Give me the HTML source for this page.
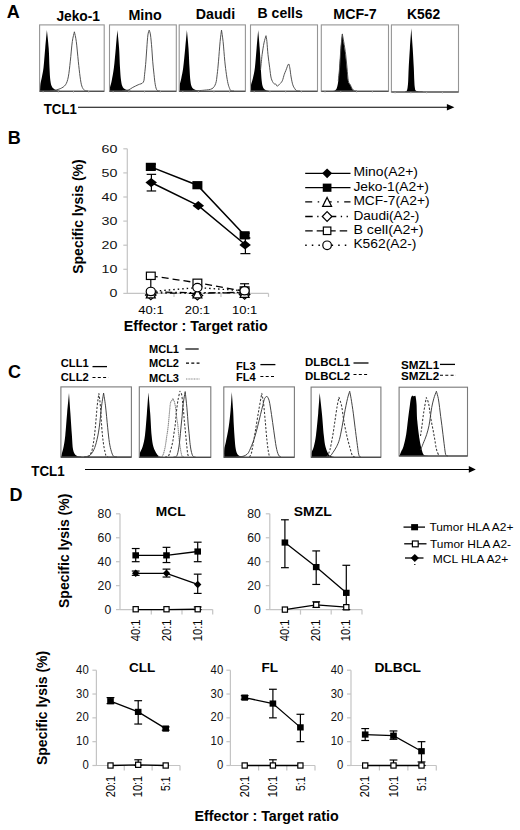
<!DOCTYPE html><html><head><meta charset="utf-8"><style>html,body{margin:0;padding:0;background:#fff;}svg{display:block;}text{font-family:"Liberation Sans",sans-serif;}</style></head><body>
<svg width="520" height="830" viewBox="0 0 520 830">
<rect width="520" height="830" fill="#fff"/>
<text x="6.8" y="17.6" font-size="18" font-weight="bold">A</text>
<text x="56.4" y="20.6" font-size="14" font-weight="bold" textLength="43.6" lengthAdjust="spacingAndGlyphs">Jeko-1</text>
<text x="128.4" y="20.1" font-size="14" font-weight="bold" textLength="33.4" lengthAdjust="spacingAndGlyphs">Mino</text>
<text x="195.8" y="18.8" font-size="14" font-weight="bold" textLength="39.4" lengthAdjust="spacingAndGlyphs">Daudi</text>
<text x="257.6" y="18.4" font-size="14" font-weight="bold" textLength="45.2" lengthAdjust="spacingAndGlyphs">B cells</text>
<text x="333.3" y="19" font-size="14" font-weight="bold" textLength="43.4" lengthAdjust="spacingAndGlyphs">MCF-7</text>
<text x="407" y="18.8" font-size="14" font-weight="bold" textLength="33.1" lengthAdjust="spacingAndGlyphs">K562</text>
<path d="M40,90.8 C40.07,89.67 40.08,86.32 40.4,84 C40.72,81.68 41.38,79.6 41.9,76.9 C42.42,74.2 42.95,72.58 43.5,67.8 C44.05,63.02 44.63,54.48 45.2,48.2 C45.77,41.92 46.62,33.12 46.9,30.1 C47.2,33.12 48.27,41.92 48.7,48.2 C49.13,54.48 49.22,62.37 49.5,67.8 C49.78,73.23 49.92,77.53 50.4,80.8 C50.88,84.07 51.2,85.77 52.4,87.4 C53.6,89.03 56,90 57.6,90.6 C59.2,91.2 61.27,90.93 62,91 L62,91.2 L40,91.2 Z" fill="#000"/>
<path d="M109.8,90.8 C109.83,90.23 109.68,89.07 110,87.4 C110.32,85.73 111.05,84.07 111.7,80.8 C112.35,77.53 113.22,73.23 113.9,67.8 C114.58,62.37 115.22,54.48 115.8,48.2 C116.38,41.92 117.13,33.12 117.4,30.1 C117.68,33.12 118.67,41.92 119.1,48.2 C119.53,54.48 119.67,62.37 120,67.8 C120.33,73.23 120.6,77.53 121.1,80.8 C121.6,84.07 121.92,85.83 123,87.4 C124.08,88.97 126.1,89.6 127.6,90.2 C129.1,90.8 131.27,90.87 132,91 L132,91.2 L109.8,91.2 Z" fill="#000"/>
<path d="M179.5,90.8 C179.53,89.83 179.4,87.1 179.7,85 C180,82.9 180.72,81.07 181.3,78.2 C181.88,75.33 182.55,72.8 183.2,67.8 C183.85,62.8 184.58,54.48 185.2,48.2 C185.82,41.92 186.62,33.12 186.9,30.1 C187.17,33.12 188.07,41.92 188.5,48.2 C188.93,54.48 189.18,62.37 189.5,67.8 C189.82,73.23 189.97,77.53 190.4,80.8 C190.83,84.07 191.12,85.83 192.1,87.4 C193.08,88.97 194.82,89.6 196.3,90.2 C197.78,90.8 200.22,90.87 201,91 L201,91.2 L179.5,91.2 Z" fill="#000"/>
<path d="M250.8,90.8 C250.83,89.83 250.65,87.1 251,85 C251.35,82.9 252.25,81.07 252.9,78.2 C253.55,75.33 254.28,72.8 254.9,67.8 C255.52,62.8 256.05,54.48 256.6,48.2 C257.15,41.92 257.93,33.12 258.2,30.1 C258.45,33.12 259.27,41.92 259.7,48.2 C260.13,54.48 260.47,62.37 260.8,67.8 C261.13,73.23 261.32,77.53 261.7,80.8 C262.08,84.07 262.38,85.83 263.1,87.4 C263.82,88.97 264.85,89.6 266,90.2 C267.15,90.8 269.33,90.87 270,91 L270,91.2 L250.8,91.2 Z" fill="#000"/>
<path d="M333.5,91 C333.82,90.83 334.82,90.6 335.4,90 C335.98,89.4 336.52,88.93 337,87.4 C337.48,85.87 337.9,84.07 338.3,80.8 C338.7,77.53 339,73.23 339.4,67.8 C339.8,62.37 340.23,53.98 340.7,48.2 C341.17,42.42 341.95,35.62 342.2,33.1 C342.42,34.52 342.95,38 343.5,41.6 C344.05,45.2 344.95,50.33 345.5,54.7 C346.05,59.07 346.37,63.45 346.8,67.8 C347.23,72.15 347.55,77.97 348.1,80.8 C348.65,83.63 349.45,83.48 350.1,84.8 C350.75,86.12 351.35,87.72 352,88.7 C352.65,89.68 353.17,90.32 354,90.7 C354.83,91.08 356.5,90.95 357,91 L357,91.2 L333.5,91.2 Z" fill="#000"/>
<path d="M405,91.6 C405.27,91.5 406.17,91.7 406.6,91 C407.03,90.3 407.33,89.1 407.6,87.4 C407.87,85.7 408.02,84.07 408.2,80.8 C408.38,77.53 408.42,73.23 408.7,67.8 C408.98,62.37 409.47,54.78 409.9,48.2 C410.33,41.62 411.07,31.62 411.3,28.3 C411.53,31.62 412.28,41.62 412.7,48.2 C413.12,54.78 413.53,62.37 413.8,67.8 C414.07,73.23 414.13,77.53 414.3,80.8 C414.47,84.07 414.55,85.77 414.8,87.4 C415.05,89.03 415.1,89.93 415.8,90.6 C416.5,91.27 417.85,91.23 419,91.4 C420.15,91.57 422.08,91.57 422.7,91.6 L422.7,92 L405,92 Z" fill="#000"/>
<path d="M50,91 C50.62,90.92 52,90.88 53.7,90.5 C55.4,90.12 58.23,89.65 60.2,88.7 C62.17,87.75 64.15,86.77 65.5,84.8 C66.85,82.83 67.5,80.83 68.3,76.9 C69.1,72.97 69.63,67.08 70.3,61.2 C70.97,55.32 71.62,46.5 72.3,41.6 C72.98,36.7 74.05,33.43 74.4,31.8 C74.72,33.43 75.65,36.7 76.3,41.6 C76.95,46.5 77.67,55.32 78.3,61.2 C78.93,67.08 79.52,72.77 80.1,76.9 C80.68,81.03 81.08,83.78 81.8,86 C82.52,88.22 83.37,89.37 84.4,90.2 C85.43,91.03 87.4,90.87 88,91" fill="none" stroke="#4a4a4a" stroke-width="0.95" stroke-linejoin="round"/>
<path d="M122,91 C122.5,90.93 123.85,90.8 125,90.6 C126.15,90.4 127.6,90.33 128.9,89.8 C130.2,89.27 131.27,88.23 132.8,87.4 C134.33,86.57 136.35,85.67 138.1,84.8 C139.85,83.93 142.22,83.95 143.3,82.2 C144.38,80.45 144.17,77.8 144.6,74.3 C145.03,70.8 145.53,65.55 145.9,61.2 C146.27,56.85 146.47,52.57 146.8,48.2 C147.13,43.83 147.5,38.02 147.9,35 C148.3,31.98 148.98,30.92 149.2,30.1 C149.42,30.92 150.07,31.98 150.5,35 C150.93,38.02 151.43,43.83 151.8,48.2 C152.17,52.57 152.33,56.85 152.7,61.2 C153.07,65.55 153.57,70.37 154,74.3 C154.43,78.23 154.8,82.15 155.3,84.8 C155.8,87.45 156.22,89.17 157,90.2 C157.78,91.23 159.5,90.87 160,91" fill="none" stroke="#4a4a4a" stroke-width="0.95" stroke-linejoin="round"/>
<path d="M192,91 C194.03,90.87 200.87,90.58 204.2,90.2 C207.53,89.82 210.08,89.82 212,88.7 C213.92,87.58 214.83,85.9 215.7,83.5 C216.57,81.1 216.73,78.02 217.2,74.3 C217.67,70.58 218.02,66.65 218.5,61.2 C218.98,55.75 219.6,46.78 220.1,41.6 C220.6,36.42 221.27,32.02 221.5,30.1 C221.77,32.02 222.55,36.42 223.1,41.6 C223.65,46.78 224.25,55.75 224.8,61.2 C225.35,66.65 225.87,70.58 226.4,74.3 C226.93,78.02 227.45,81.1 228,83.5 C228.55,85.9 229.2,87.5 229.7,88.7 C230.2,89.9 230.28,90.32 231,90.7 C231.72,91.08 233.5,90.95 234,91" fill="none" stroke="#4a4a4a" stroke-width="0.95" stroke-linejoin="round"/>
<path d="M260.5,70 C260.65,68.53 261.13,63.75 261.4,61.2 C261.67,58.65 261.67,57.75 262.1,54.7 C262.53,51.65 263.35,46.07 264,42.9 C264.65,39.73 265.67,36.9 266,35.7 C266.15,36.68 266.57,38.43 266.9,41.6 C267.23,44.77 267.53,50.33 268,54.7 C268.47,59.07 269.17,63.88 269.7,67.8 C270.23,71.72 270.52,75.58 271.2,78.2 C271.88,80.82 273.03,82.52 273.8,83.5 C274.57,84.48 275.25,83.67 275.8,84.1 C276.35,84.53 276.45,86.1 277.1,86.1 C277.75,86.1 278.83,84.98 279.7,84.1 C280.57,83.22 281.53,82.43 282.3,80.8 C283.07,79.17 283.7,76.03 284.3,74.3 C284.9,72.57 285.2,72.1 285.9,70.4 C286.6,68.7 287.85,64.53 288.5,64.1 C289.15,63.67 289.37,65.65 289.8,67.8 C290.23,69.95 290.6,74.17 291.1,77 C291.6,79.83 292.18,82.85 292.8,84.8 C293.42,86.75 294.15,87.72 294.8,88.7 C295.45,89.68 295.83,90.32 296.7,90.7 C297.57,91.08 299.45,90.95 300,91" fill="none" stroke="#4a4a4a" stroke-width="0.95" stroke-linejoin="round"/>
<path d="M338.3,80.8 C338.52,78.63 339.17,73.23 339.6,67.8 C340.03,62.37 340.45,53.83 340.9,48.2 C341.35,42.57 342.07,36.37 342.3,34 C342.53,35.27 343.13,38.15 343.7,41.6 C344.27,45.05 345.15,50.33 345.7,54.7 C346.25,59.07 346.57,63.45 347,67.8 C347.43,72.15 347.75,77.97 348.3,80.8 C348.85,83.63 349.65,83.48 350.3,84.8 C350.95,86.12 351.55,87.72 352.2,88.7 C352.85,89.68 353.4,90.32 354.2,90.7 C355,91.08 356.53,90.95 357,91" fill="none" stroke="#4a4a4a" stroke-width="0.95" stroke-linejoin="round"/>
<rect x="39.6" y="24.9" width="64.6" height="66.3" fill="none" stroke="#959595" stroke-width="1.1"/>
<line x1="39.6" y1="91.2" x2="104.2" y2="91.2" stroke="#333" stroke-width="1.1"/>
<line x1="43.15" y1="91.2" x2="43.15" y2="92.8" stroke="#bbb" stroke-width="0.8"/>
<line x1="58.33" y1="91.2" x2="58.33" y2="92.8" stroke="#bbb" stroke-width="0.8"/>
<line x1="73.51" y1="91.2" x2="73.51" y2="92.8" stroke="#bbb" stroke-width="0.8"/>
<line x1="88.7" y1="91.2" x2="88.7" y2="92.8" stroke="#bbb" stroke-width="0.8"/>
<rect x="109.5" y="24.9" width="66.8" height="66.3" fill="none" stroke="#959595" stroke-width="1.1"/>
<line x1="109.5" y1="91.2" x2="176.3" y2="91.2" stroke="#333" stroke-width="1.1"/>
<line x1="113.17" y1="91.2" x2="113.17" y2="92.8" stroke="#bbb" stroke-width="0.8"/>
<line x1="128.87" y1="91.2" x2="128.87" y2="92.8" stroke="#bbb" stroke-width="0.8"/>
<line x1="144.57" y1="91.2" x2="144.57" y2="92.8" stroke="#bbb" stroke-width="0.8"/>
<line x1="160.27" y1="91.2" x2="160.27" y2="92.8" stroke="#bbb" stroke-width="0.8"/>
<rect x="179.2" y="24.9" width="66.2" height="66.3" fill="none" stroke="#959595" stroke-width="1.1"/>
<line x1="179.2" y1="91.2" x2="245.4" y2="91.2" stroke="#333" stroke-width="1.1"/>
<line x1="182.84" y1="91.2" x2="182.84" y2="92.8" stroke="#bbb" stroke-width="0.8"/>
<line x1="198.4" y1="91.2" x2="198.4" y2="92.8" stroke="#bbb" stroke-width="0.8"/>
<line x1="213.95" y1="91.2" x2="213.95" y2="92.8" stroke="#bbb" stroke-width="0.8"/>
<line x1="229.51" y1="91.2" x2="229.51" y2="92.8" stroke="#bbb" stroke-width="0.8"/>
<rect x="250.5" y="24.9" width="67" height="66.3" fill="none" stroke="#959595" stroke-width="1.1"/>
<line x1="250.5" y1="91.2" x2="317.5" y2="91.2" stroke="#333" stroke-width="1.1"/>
<line x1="254.19" y1="91.2" x2="254.19" y2="92.8" stroke="#bbb" stroke-width="0.8"/>
<line x1="269.93" y1="91.2" x2="269.93" y2="92.8" stroke="#bbb" stroke-width="0.8"/>
<line x1="285.68" y1="91.2" x2="285.68" y2="92.8" stroke="#bbb" stroke-width="0.8"/>
<line x1="301.42" y1="91.2" x2="301.42" y2="92.8" stroke="#bbb" stroke-width="0.8"/>
<rect x="321.3" y="24.9" width="67.2" height="66.3" fill="none" stroke="#959595" stroke-width="1.1"/>
<line x1="321.3" y1="91.2" x2="388.5" y2="91.2" stroke="#333" stroke-width="1.1"/>
<line x1="325" y1="91.2" x2="325" y2="92.8" stroke="#bbb" stroke-width="0.8"/>
<line x1="340.79" y1="91.2" x2="340.79" y2="92.8" stroke="#bbb" stroke-width="0.8"/>
<line x1="356.58" y1="91.2" x2="356.58" y2="92.8" stroke="#bbb" stroke-width="0.8"/>
<line x1="372.37" y1="91.2" x2="372.37" y2="92.8" stroke="#bbb" stroke-width="0.8"/>
<rect x="391.4" y="24.9" width="67.1" height="67.1" fill="none" stroke="#959595" stroke-width="1.1"/>
<line x1="391.4" y1="92" x2="458.5" y2="92" stroke="#333" stroke-width="1.1"/>
<line x1="395.09" y1="92" x2="395.09" y2="93.6" stroke="#bbb" stroke-width="0.8"/>
<line x1="410.86" y1="92" x2="410.86" y2="93.6" stroke="#bbb" stroke-width="0.8"/>
<line x1="426.63" y1="92" x2="426.63" y2="93.6" stroke="#bbb" stroke-width="0.8"/>
<line x1="442.4" y1="92" x2="442.4" y2="93.6" stroke="#bbb" stroke-width="0.8"/>
<text x="43.8" y="113.6" font-size="14" font-weight="bold" textLength="33" lengthAdjust="spacingAndGlyphs">TCL1</text>
<line x1="78" y1="107.3" x2="447.9" y2="107.3" stroke="#000" stroke-width="1.1"/>
<polygon points="446.9,104.1 454.4,107.3 446.9,110.6" fill="#000"/>
<text x="7.8" y="143.8" font-size="18" font-weight="bold">B</text>
<line x1="127.3" y1="148.8" x2="127.3" y2="293.9" stroke="#c4c4c4" stroke-width="1.2"/>
<line x1="127.3" y1="293.4" x2="268.5" y2="293.4" stroke="#c4c4c4" stroke-width="1.2"/>
<line x1="123.3" y1="293.4" x2="127.3" y2="293.4" stroke="#c4c4c4" stroke-width="1.2"/>
<line x1="123.3" y1="269.3" x2="127.3" y2="269.3" stroke="#c4c4c4" stroke-width="1.2"/>
<line x1="123.3" y1="245.2" x2="127.3" y2="245.2" stroke="#c4c4c4" stroke-width="1.2"/>
<line x1="123.3" y1="221.1" x2="127.3" y2="221.1" stroke="#c4c4c4" stroke-width="1.2"/>
<line x1="123.3" y1="197" x2="127.3" y2="197" stroke="#c4c4c4" stroke-width="1.2"/>
<line x1="123.3" y1="172.9" x2="127.3" y2="172.9" stroke="#c4c4c4" stroke-width="1.2"/>
<line x1="123.3" y1="148.8" x2="127.3" y2="148.8" stroke="#c4c4c4" stroke-width="1.2"/>
<line x1="174" y1="293.4" x2="174" y2="296.9" stroke="#c4c4c4" stroke-width="1.2"/>
<line x1="221" y1="293.4" x2="221" y2="296.9" stroke="#c4c4c4" stroke-width="1.2"/>
<line x1="268.5" y1="293.4" x2="268.5" y2="296.9" stroke="#c4c4c4" stroke-width="1.2"/>
<text x="117.4" y="297.1" font-size="11.5" text-anchor="end" textLength="7.9" lengthAdjust="spacingAndGlyphs" fill="#111">0</text>
<text x="117.4" y="273" font-size="11.5" text-anchor="end" textLength="15.8" lengthAdjust="spacingAndGlyphs" fill="#111">10</text>
<text x="117.4" y="248.9" font-size="11.5" text-anchor="end" textLength="15.8" lengthAdjust="spacingAndGlyphs" fill="#111">20</text>
<text x="117.4" y="224.8" font-size="11.5" text-anchor="end" textLength="15.8" lengthAdjust="spacingAndGlyphs" fill="#111">30</text>
<text x="117.4" y="200.7" font-size="11.5" text-anchor="end" textLength="15.8" lengthAdjust="spacingAndGlyphs" fill="#111">40</text>
<text x="117.4" y="176.6" font-size="11.5" text-anchor="end" textLength="15.8" lengthAdjust="spacingAndGlyphs" fill="#111">50</text>
<text x="117.4" y="152.5" font-size="11.5" text-anchor="end" textLength="15.8" lengthAdjust="spacingAndGlyphs" fill="#111">60</text>
<text x="82.6" y="273.8" font-size="14" font-weight="bold" textLength="114.5" lengthAdjust="spacingAndGlyphs" transform="rotate(-90 82.6 273.8)">Specific lysis (%)</text>
<text x="151" y="313.9" font-size="11.5" text-anchor="middle" textLength="25.3" lengthAdjust="spacingAndGlyphs">40:1</text>
<text x="197.4" y="313.9" font-size="11.5" text-anchor="middle" textLength="25.3" lengthAdjust="spacingAndGlyphs">20:1</text>
<text x="244.6" y="313.9" font-size="11.5" text-anchor="middle" textLength="25.3" lengthAdjust="spacingAndGlyphs">10:1</text>
<text x="123.7" y="330.6" font-size="14" font-weight="bold" textLength="144" lengthAdjust="spacingAndGlyphs">Effector : Target ratio</text>
<polyline points="150.8,292.92 197.4,293.4 244.6,292.19" fill="none" stroke="#000" stroke-width="1.2" stroke-dasharray="7 3 1.5 3 1.5 3"/>
<polyline points="150.8,291.95 197.4,292.68 244.6,292.92" fill="none" stroke="#000" stroke-width="1.2" stroke-dasharray="7 3 1.5 3"/>
<polyline points="150.8,291.47 197.4,287.62 244.6,290.75" fill="none" stroke="#000" stroke-width="1.3" stroke-dasharray="1.5 3"/>
<polyline points="150.8,275.81 197.4,282.8 244.6,291.23" fill="none" stroke="#000" stroke-width="1.3" stroke-dasharray="7 4"/>
<line x1="150.8" y1="275.81" x2="150.8" y2="289.78" stroke="#000" stroke-width="1.2"/>
<line x1="150.8" y1="275.81" x2="150.8" y2="275.81" stroke="#000" stroke-width="1.2"/>
<line x1="150.8" y1="289.78" x2="150.8" y2="289.78" stroke="#000" stroke-width="1.2"/>
<line x1="244.6" y1="283.76" x2="244.6" y2="293.4" stroke="#000" stroke-width="1.2"/>
<line x1="240.1" y1="283.76" x2="249.1" y2="283.76" stroke="#000" stroke-width="1.2"/>
<line x1="240.1" y1="293.4" x2="249.1" y2="293.4" stroke="#000" stroke-width="1.2"/>
<polygon points="150.8,290.59 156.05,295.09 150.8,299.59 145.55,295.09" fill="#fff" stroke="#000" stroke-width="1.2"/>
<polygon points="197.4,291.07 202.65,295.57 197.4,300.07 192.15,295.57" fill="#fff" stroke="#000" stroke-width="1.2"/>
<polygon points="244.6,290.1 249.85,294.6 244.6,299.1 239.35,294.6" fill="#fff" stroke="#000" stroke-width="1.2"/>
<polygon points="150.8,288.9 155.3,297.9 146.3,297.9" fill="#fff" stroke="#000" stroke-width="1.2"/>
<polygon points="197.4,288.9 201.9,297.9 192.9,297.9" fill="#fff" stroke="#000" stroke-width="1.2"/>
<polygon points="244.6,288.42 249.1,297.42 240.1,297.42" fill="#fff" stroke="#000" stroke-width="1.2"/>
<rect x="146.4" y="272.16" width="8.8" height="7.3" fill="#fff" stroke="#000" stroke-width="1.2"/>
<rect x="193" y="279.15" width="8.8" height="7.3" fill="#fff" stroke="#000" stroke-width="1.2"/>
<rect x="240.2" y="286.86" width="8.8" height="7.3" fill="#fff" stroke="#000" stroke-width="1.2"/>
<ellipse cx="150.8" cy="291.47" rx="4.6" ry="4.2" fill="#fff" stroke="#000" stroke-width="1.2"/>
<ellipse cx="197.4" cy="287.62" rx="4.6" ry="4.2" fill="#fff" stroke="#000" stroke-width="1.2"/>
<ellipse cx="244.6" cy="290.75" rx="4.6" ry="4.2" fill="#fff" stroke="#000" stroke-width="1.2"/>
<polyline points="150.8,166.88 197.4,185.19 244.6,235.32" fill="none" stroke="#000" stroke-width="1.5"/>
<polyline points="151.2,182.54 198.3,205.68 245.1,244.48" fill="none" stroke="#000" stroke-width="1.5"/>
<line x1="151.4" y1="174.35" x2="151.4" y2="190.97" stroke="#000" stroke-width="1.2"/>
<line x1="146.65" y1="174.35" x2="156.15" y2="174.35" stroke="#000" stroke-width="1.2"/>
<line x1="146.65" y1="190.97" x2="156.15" y2="190.97" stroke="#000" stroke-width="1.2"/>
<line x1="151.4" y1="164.22" x2="151.4" y2="169.29" stroke="#000" stroke-width="1.2"/>
<line x1="146.9" y1="164.22" x2="155.9" y2="164.22" stroke="#000" stroke-width="1.2"/>
<line x1="146.9" y1="169.29" x2="155.9" y2="169.29" stroke="#000" stroke-width="1.2"/>
<line x1="245.4" y1="237.97" x2="245.4" y2="253.63" stroke="#000" stroke-width="1.2"/>
<line x1="240.4" y1="237.97" x2="250.4" y2="237.97" stroke="#000" stroke-width="1.2"/>
<line x1="240.4" y1="253.63" x2="250.4" y2="253.63" stroke="#000" stroke-width="1.2"/>
<line x1="245.4" y1="233.15" x2="245.4" y2="237.97" stroke="#000" stroke-width="1.2"/>
<line x1="240.9" y1="233.15" x2="249.9" y2="233.15" stroke="#000" stroke-width="1.2"/>
<line x1="240.9" y1="237.97" x2="249.9" y2="237.97" stroke="#000" stroke-width="1.2"/>
<rect x="145.8" y="162.78" width="10" height="8.2" fill="#000"/>
<rect x="192.4" y="181.09" width="10" height="8.2" fill="#000"/>
<rect x="239.6" y="231.22" width="10" height="8.2" fill="#000"/>
<polygon points="151.2,177.94 156.95,182.54 151.2,187.14 145.45,182.54" fill="#000"/>
<polygon points="198.3,201.08 204.05,205.68 198.3,210.28 192.55,205.68" fill="#000"/>
<polygon points="245.1,240.36 250.85,244.96 245.1,249.56 239.35,244.96" fill="#000"/>
<line x1="305.2" y1="173.3" x2="350.5" y2="173.3" stroke="#000" stroke-width="1.3"/>
<polygon points="327.1,168.4 332.1,173.3 327.1,178.2 322.1,173.3" fill="#000"/>
<line x1="305.2" y1="187.7" x2="350.5" y2="187.7" stroke="#000" stroke-width="1.3"/>
<rect x="322.75" y="183.6" width="8.7" height="8.2" fill="#000"/>
<line x1="305.2" y1="201.9" x2="350.5" y2="201.9" stroke="#000" stroke-width="1.3" stroke-dasharray="7 5.5 1.5 5.5"/>
<polygon points="327.1,197.4 331.6,206.4 322.6,206.4" fill="#fff" stroke="#000" stroke-width="1.2"/>
<line x1="305.2" y1="216.5" x2="350.5" y2="216.5" stroke="#000" stroke-width="1.3" stroke-dasharray="7.5 4.5 1.3 4.5 1.3 4.5"/>
<polygon points="327.1,211.7 331.9,216.5 327.1,221.3 322.3,216.5" fill="#fff" stroke="#000" stroke-width="1.2"/>
<line x1="305.2" y1="230.8" x2="350.5" y2="230.8" stroke="#000" stroke-width="1.3" stroke-dasharray="7.5 4"/>
<rect x="323.35" y="227.05" width="7.5" height="7.5" fill="#fff" stroke="#000" stroke-width="1.2"/>
<line x1="305.2" y1="245.3" x2="350.5" y2="245.3" stroke="#000" stroke-width="1.4" stroke-dasharray="1.5 5.1"/>
<ellipse cx="327.1" cy="245.3" rx="4.3" ry="4.3" fill="#fff" stroke="#000" stroke-width="1.2"/>
<text x="353.4" y="176.4" font-size="12.5" textLength="64.6" lengthAdjust="spacingAndGlyphs">Mino(A2+)</text>
<text x="353.4" y="190.8" font-size="12.5" textLength="75.5" lengthAdjust="spacingAndGlyphs">Jeko-1(A2+)</text>
<text x="353.4" y="205" font-size="12.5" textLength="76.2" lengthAdjust="spacingAndGlyphs">MCF-7(A2+)</text>
<text x="353.4" y="219.6" font-size="12.5" textLength="66" lengthAdjust="spacingAndGlyphs">Daudi(A2-)</text>
<text x="353.4" y="233.9" font-size="12.5" textLength="70" lengthAdjust="spacingAndGlyphs">B cell(A2+)</text>
<text x="353.4" y="248.4" font-size="12.5" textLength="63" lengthAdjust="spacingAndGlyphs">K562(A2-)</text>
<text x="8" y="377.8" font-size="18" font-weight="bold">C</text>
<text x="60.8" y="367.1" font-size="11" font-weight="bold" textLength="27.9" lengthAdjust="spacingAndGlyphs">CLL1</text>
<text x="60.8" y="381" font-size="11" font-weight="bold" textLength="27.9" lengthAdjust="spacingAndGlyphs">CLL2</text>
<line x1="92.5" y1="366.6" x2="107" y2="366.6" stroke="#000" stroke-width="1.3"/>
<line x1="92.5" y1="377.5" x2="108.5" y2="377.5" stroke="#000" stroke-width="1.1" stroke-dasharray="3 2.3"/>
<text x="149" y="352.5" font-size="11" font-weight="bold" textLength="30" lengthAdjust="spacingAndGlyphs">MCL1</text>
<text x="149" y="366.8" font-size="11" font-weight="bold" textLength="30" lengthAdjust="spacingAndGlyphs">MCL2</text>
<text x="149" y="382.1" font-size="11" font-weight="bold" textLength="30" lengthAdjust="spacingAndGlyphs">MCL3</text>
<line x1="185.4" y1="349" x2="198.7" y2="349" stroke="#000" stroke-width="1.2"/>
<line x1="186" y1="363.1" x2="199.5" y2="363.1" stroke="#000" stroke-width="1.1" stroke-dasharray="3 2.3"/>
<line x1="186" y1="379" x2="199.5" y2="379" stroke="#888" stroke-width="1.1" stroke-dasharray="1 0.6"/>
<text x="236" y="369.8" font-size="11" font-weight="bold" textLength="19.8" lengthAdjust="spacingAndGlyphs">FL3</text>
<text x="236" y="380.8" font-size="11" font-weight="bold" textLength="19.8" lengthAdjust="spacingAndGlyphs">FL4</text>
<line x1="260.4" y1="364.6" x2="275.4" y2="364.6" stroke="#000" stroke-width="1.3"/>
<line x1="260.4" y1="376.5" x2="276" y2="376.5" stroke="#000" stroke-width="1.1" stroke-dasharray="3 2.3"/>
<text x="305" y="366" font-size="11" font-weight="bold" textLength="45.2" lengthAdjust="spacingAndGlyphs">DLBCL1</text>
<text x="305" y="380" font-size="11" font-weight="bold" textLength="45.2" lengthAdjust="spacingAndGlyphs">DLBCL2</text>
<line x1="353.5" y1="363" x2="368.5" y2="363" stroke="#000" stroke-width="1.3"/>
<line x1="353.5" y1="374.5" x2="369" y2="374.5" stroke="#000" stroke-width="1.1" stroke-dasharray="3 2.3"/>
<text x="401" y="368.5" font-size="11" font-weight="bold" textLength="38.2" lengthAdjust="spacingAndGlyphs">SMZL1</text>
<text x="401" y="379.8" font-size="11" font-weight="bold" textLength="38.2" lengthAdjust="spacingAndGlyphs">SMZL2</text>
<line x1="440" y1="364.4" x2="455" y2="364.4" stroke="#000" stroke-width="1.3"/>
<line x1="440" y1="375.3" x2="456" y2="375.3" stroke="#000" stroke-width="1.1" stroke-dasharray="3 2.3"/>
<path d="M61.2,457 C61.28,456.53 61.3,455.9 61.7,454.2 C62.1,452.5 63,449.97 63.6,446.8 C64.2,443.63 64.72,440.8 65.3,435.2 C65.88,429.6 66.48,420.22 67.1,413.2 C67.72,406.18 68.68,396.45 69,393.1 C69.23,396.45 69.92,406.18 70.4,413.2 C70.88,420.22 71.45,429.1 71.9,435.2 C72.35,441.3 72.37,446.4 73.1,449.8 C73.83,453.2 74.92,454.43 76.3,455.6 C77.68,456.77 80.55,456.6 81.4,456.8 L81.4,457 L61.2,457 Z" fill="#000"/>
<path d="M139.6,457 C139.65,456.33 139.4,454.7 139.9,453 C140.4,451.3 141.75,449.77 142.6,446.8 C143.45,443.83 144.28,440.8 145,435.2 C145.72,429.6 146.33,420.32 146.9,413.2 C147.47,406.08 148.15,395.95 148.4,392.5 C148.7,395.95 149.67,406.08 150.2,413.2 C150.73,420.32 151.07,429.6 151.6,435.2 C152.13,440.8 152.55,443.7 153.4,446.8 C154.25,449.9 155.78,452.23 156.7,453.8 C157.62,455.37 158.18,455.67 158.9,456.2 C159.62,456.73 160.65,456.87 161,457 L161,457 L139.6,457 Z" fill="#000"/>
<path d="M224.1,457 C224.12,455.7 223.92,451.65 224.2,449.2 C224.48,446.75 225.03,446.13 225.8,442.3 C226.57,438.47 228,431.58 228.8,426.2 C229.6,420.82 230.1,415.7 230.6,410 C231.1,404.3 231.6,395 231.8,392 C232.02,395 232.77,404.5 233.1,410 C233.43,415.5 233.55,420.38 233.8,425 C234.05,429.62 234.27,433.67 234.6,437.7 C234.93,441.73 235.22,446.32 235.8,449.2 C236.38,452.08 236.95,453.77 238.1,455 C239.25,456.23 241.55,456.27 242.7,456.6 C243.85,456.93 244.62,456.93 245,457 L245,457 L224.1,457 Z" fill="#000"/>
<path d="M311.4,457 C311.45,456.22 311.3,454 311.7,452.3 C312.1,450.6 313.08,449.65 313.8,446.8 C314.52,443.95 315.27,440.8 316,435.2 C316.73,429.6 317.58,420.22 318.2,413.2 C318.82,406.18 319.45,396.45 319.7,393.1 C320.07,396.45 321.22,406.18 321.9,413.2 C322.58,420.22 323.2,429.6 323.8,435.2 C324.4,440.8 324.72,443.63 325.5,446.8 C326.28,449.97 327.52,452.62 328.5,454.2 C329.48,455.78 330.48,455.83 331.4,456.3 C332.32,456.77 333.57,456.88 334,457 L334,457 L311.4,457 Z" fill="#000"/>
<path d="M399.4,455.8 C399.68,455.12 400.4,453.35 401.1,451.7 C401.8,450.05 402.75,448.82 403.6,445.9 C404.45,442.98 405.47,438.6 406.2,434.2 C406.93,429.8 407.38,424.38 408,419.5 C408.62,414.62 409.38,408.55 409.9,404.9 C410.42,401.25 410.67,399.17 411.1,397.6 C411.53,396.03 412.27,395.85 412.5,395.5 C412.72,395.63 413.33,396.25 413.8,396.3 C414.27,396.35 414.93,395.35 415.3,395.8 C415.67,396.25 415.78,397.48 416,399 C416.22,400.52 416.38,401.23 416.6,404.9 C416.82,408.57 416.82,415.32 417.3,421 C417.78,426.68 418.83,434.5 419.5,439 C420.17,443.5 420.7,445.55 421.3,448 C421.9,450.45 422.48,452.45 423.1,453.7 C423.72,454.95 424.18,455.13 425,455.5 C425.82,455.87 427.5,455.83 428,455.9 L428,455.9 L399.4,455.9 Z" fill="#000"/>
<path d="M88,457 C88.55,456.25 90.38,454.92 91.3,452.5 C92.22,450.08 92.83,446.62 93.5,442.5 C94.17,438.38 94.68,433.9 95.3,427.8 C95.92,421.7 96.6,411.62 97.2,405.9 C97.8,400.18 98.62,395.57 98.9,393.5 C99.15,395.57 99.92,400.18 100.4,405.9 C100.88,411.62 101.32,421.7 101.8,427.8 C102.28,433.9 102.75,438.38 103.3,442.5 C103.85,446.62 104.62,450.28 105.1,452.5 C105.58,454.72 105.72,455.05 106.2,455.8 C106.68,456.55 107.7,456.8 108,457" fill="none" stroke="#3a3a3a" stroke-width="1.05" stroke-dasharray="2.2 1.6" stroke-linejoin="round"/>
<path d="M84,457 C84.9,456.77 87.88,456.57 89.4,455.6 C90.92,454.63 91.95,453.38 93.1,451.2 C94.25,449.02 95.28,446.4 96.3,442.5 C97.32,438.6 98.32,433.9 99.2,427.8 C100.08,421.7 100.87,411.68 101.6,405.9 C102.33,400.12 103.27,395.23 103.6,393.1 C103.92,395.23 104.82,400.12 105.5,405.9 C106.18,411.68 107.05,421.7 107.7,427.8 C108.35,433.9 108.8,438.6 109.4,442.5 C110,446.4 110.62,448.92 111.3,451.2 C111.98,453.48 112.55,455.23 113.5,456.2 C114.45,457.17 116.42,456.87 117,457" fill="none" stroke="#3a3a3a" stroke-width="0.95" stroke-linejoin="round"/>
<path d="M158,457 C158.62,456.95 160.78,457.27 161.7,456.7 C162.62,456.13 162.92,455.27 163.5,453.6 C164.08,451.93 164.7,449.3 165.2,446.7 C165.7,444.1 166.07,440.88 166.5,438 C166.93,435.12 167.43,432.28 167.8,429.4 C168.17,426.52 168.42,423.6 168.7,420.7 C168.98,417.8 169.22,414.9 169.5,412 C169.78,409.1 170.1,405.1 170.4,403.3 C170.7,401.5 171.02,401.72 171.3,401.2 C171.58,400.68 171.82,400.63 172.1,400.2 C172.38,399.77 172.85,398.87 173,398.6 C173.13,398.93 173.55,400 173.8,400.6 C174.05,401.2 174.2,401.02 174.5,402.2 C174.8,403.38 175.27,405.33 175.6,407.7 C175.93,410.07 176.13,413.52 176.5,416.4 C176.87,419.28 177.45,422.12 177.8,425 C178.15,427.88 178.32,430.8 178.6,433.7 C178.88,436.6 179.13,439.52 179.5,442.4 C179.87,445.28 180.37,448.68 180.8,451 C181.23,453.32 181.57,455.3 182.1,456.3 C182.63,457.3 183.68,456.88 184,457" fill="none" stroke="#8a8a8a" stroke-width="1.05" stroke-dasharray="1.5 0.45" stroke-linejoin="round"/>
<path d="M165,457 C165.53,456.88 167.3,457.3 168.2,456.3 C169.1,455.3 169.67,453.32 170.4,451 C171.13,448.68 172.02,445.28 172.6,442.4 C173.18,439.52 173.47,436.6 173.9,433.7 C174.33,430.8 174.85,427.88 175.2,425 C175.55,422.12 175.72,419.28 176,416.4 C176.28,413.52 176.53,410.6 176.9,407.7 C177.27,404.8 177.68,401.75 178.2,399 C178.72,396.25 179.7,392.5 180,391.2 C180.28,391.78 181.25,392.68 181.7,394.7 C182.15,396.72 182.38,400.42 182.7,403.3 C183.02,406.18 183.33,409.1 183.6,412 C183.87,414.9 184.03,417.8 184.3,420.7 C184.57,423.6 184.92,426.52 185.2,429.4 C185.48,432.28 185.72,435.12 186,438 C186.28,440.88 186.6,443.95 186.9,446.7 C187.2,449.45 187.37,452.78 187.8,454.5 C188.23,456.22 189.22,456.58 189.5,457" fill="none" stroke="#3a3a3a" stroke-width="1.05" stroke-dasharray="2.2 1.6" stroke-linejoin="round"/>
<path d="M173.5,457 C174,456.88 175.72,457.3 176.5,456.3 C177.28,455.3 177.7,453.32 178.2,451 C178.7,448.68 179.13,445.28 179.5,442.4 C179.87,439.52 180.12,436.6 180.4,433.7 C180.68,430.8 180.92,427.88 181.2,425 C181.48,422.12 181.85,419.28 182.1,416.4 C182.35,413.52 182.4,410.6 182.7,407.7 C183,404.8 183.48,401.68 183.9,399 C184.32,396.32 184.98,392.83 185.2,391.6 C185.33,392.83 185.72,396.32 186,399 C186.28,401.68 186.63,404.8 186.9,407.7 C187.17,410.6 187.38,413.52 187.6,416.4 C187.82,419.28 187.95,422.12 188.2,425 C188.45,427.88 188.82,430.8 189.1,433.7 C189.38,436.6 189.55,439.52 189.9,442.4 C190.25,445.28 190.68,448.68 191.2,451 C191.72,453.32 192.28,455.3 193,456.3 C193.72,457.3 195.08,456.88 195.5,457" fill="none" stroke="#3a3a3a" stroke-width="0.95" stroke-linejoin="round"/>
<path d="M249.5,457 C249.78,456.47 250.68,455.47 251.2,453.8 C251.72,452.13 251.9,450.83 252.6,447 C253.3,443.17 254.37,436.97 255.4,430.8 C256.43,424.63 257.73,416.23 258.8,410 C259.87,403.77 261.3,396.17 261.8,393.4 C262.08,395 262.92,398.32 263.5,403 C264.08,407.68 264.73,415.33 265.3,421.5 C265.87,427.67 266.32,434.62 266.9,440 C267.48,445.38 268.2,450.97 268.8,453.8 C269.4,456.63 270.22,456.47 270.5,457" fill="none" stroke="#3a3a3a" stroke-width="1.05" stroke-dasharray="2.2 1.6" stroke-linejoin="round"/>
<path d="M236,457 C236.67,456.97 238.67,456.97 240,456.8 C241.33,456.63 242.78,456.47 244,456 C245.22,455.53 246.37,454.93 247.3,454 C248.23,453.07 248.45,452.93 249.6,450.4 C250.75,447.87 252.85,442.83 254.2,438.8 C255.55,434.77 256.65,430.23 257.7,426.2 C258.75,422.17 259.65,418.07 260.5,414.6 C261.35,411.13 262.12,408.08 262.8,405.4 C263.48,402.72 263.92,400.03 264.6,398.5 C265.28,396.97 266.52,396.58 266.9,396.2 C267.28,396.97 268.43,397.73 269.2,400.8 C269.97,403.87 270.73,409.6 271.5,414.6 C272.27,419.6 273.02,425.42 273.8,430.8 C274.58,436.18 275.42,442.87 276.2,446.9 C276.98,450.93 277.7,453.32 278.5,455 C279.3,456.68 280.58,456.67 281,457" fill="none" stroke="#3a3a3a" stroke-width="0.95" stroke-linejoin="round"/>
<path d="M327,457 C327.48,455.8 328.93,453.43 329.9,449.8 C330.87,446.17 331.95,440.07 332.8,435.2 C333.65,430.33 334.27,425.48 335,420.6 C335.73,415.72 336.53,409.77 337.2,405.9 C337.87,402.03 338.7,398.82 339,397.4 C339.43,398.82 340.8,402.03 341.6,405.9 C342.4,409.77 342.95,415.72 343.8,420.6 C344.65,425.48 345.72,430.83 346.7,435.2 C347.68,439.57 348.85,443.63 349.7,446.8 C350.55,449.97 351.2,452.62 351.8,454.2 C352.4,455.78 352.77,455.83 353.3,456.3 C353.83,456.77 354.72,456.88 355,457" fill="none" stroke="#3a3a3a" stroke-width="1.05" stroke-dasharray="2.2 1.6" stroke-linejoin="round"/>
<path d="M326,457 C326.65,456.88 328.77,457.02 329.9,456.3 C331.03,455.58 331.7,454.28 332.8,452.7 C333.9,451.12 335.4,448.98 336.5,446.8 C337.6,444.62 338.5,442.77 339.4,439.6 C340.3,436.43 341.05,432.2 341.9,427.8 C342.75,423.4 343.57,418.07 344.5,413.2 C345.43,408.33 346.63,402.25 347.5,398.6 C348.37,394.95 349.33,392.52 349.7,391.3 C349.93,392.52 350.5,394.95 351.1,398.6 C351.7,402.25 352.63,408.33 353.3,413.2 C353.97,418.07 354.48,422.92 355.1,427.8 C355.72,432.68 356.45,438.35 357,442.5 C357.55,446.65 358,450.4 358.4,452.7 C358.8,455 358.97,455.58 359.4,456.3 C359.83,457.02 360.73,456.88 361,457" fill="none" stroke="#3a3a3a" stroke-width="0.95" stroke-linejoin="round"/>
<path d="M420.5,436 C420.6,435.33 420.85,433.73 421.1,432 C421.35,430.27 421.67,428.17 422,425.6 C422.33,423.03 422.68,419.6 423.1,416.6 C423.52,413.6 423.97,410.77 424.5,407.6 C425.03,404.43 426,399.27 426.3,397.6 C426.67,398.5 427.9,400.58 428.5,403 C429.1,405.42 429.43,409.08 429.9,412.1 C430.37,415.12 430.77,418.08 431.3,421.1 C431.83,424.12 432.53,427.18 433.1,430.2 C433.67,433.22 434.18,436.2 434.7,439.2 C435.22,442.2 435.72,445.93 436.2,448.2 C436.68,450.47 437.13,451.57 437.6,452.8 C438.07,454.03 438.77,455.13 439,455.6" fill="none" stroke="#3a3a3a" stroke-width="1.05" stroke-dasharray="2.2 1.6" stroke-linejoin="round"/>
<path d="M420.5,450 C420.63,449.7 420.87,449.25 421.3,448.2 C421.73,447.15 422.22,445.95 423.1,443.7 C423.98,441.45 425.62,437.72 426.6,434.7 C427.58,431.68 428.37,428.62 429,425.6 C429.63,422.58 429.95,419.6 430.4,416.6 C430.85,413.6 431.13,410.62 431.7,407.6 C432.27,404.58 433.02,401.22 433.8,398.5 C434.58,395.78 435.97,392.5 436.4,391.3 C436.72,392.5 437.77,395.78 438.3,398.5 C438.83,401.22 439.2,404.58 439.6,407.6 C440,410.62 440.32,413.6 440.7,416.6 C441.08,419.6 441.52,422.58 441.9,425.6 C442.28,428.62 442.63,431.68 443,434.7 C443.37,437.72 443.72,440.68 444.1,443.7 C444.48,446.72 444.95,450.83 445.3,452.8 C445.65,454.77 445.75,454.98 446.2,455.5 C446.65,456.02 447.7,455.83 448,455.9" fill="none" stroke="#3a3a3a" stroke-width="0.95" stroke-linejoin="round"/>
<rect x="60.9" y="386.9" width="70.5" height="70.2" fill="none" stroke="#7a7a7a" stroke-width="1.1"/>
<line x1="60.9" y1="457.1" x2="131.4" y2="457.1" stroke="#333" stroke-width="1.1"/>
<rect x="139.3" y="386.8" width="71.5" height="70.5" fill="none" stroke="#7a7a7a" stroke-width="1.1"/>
<line x1="139.3" y1="457.3" x2="210.8" y2="457.3" stroke="#333" stroke-width="1.1"/>
<rect x="223.8" y="386.9" width="70.6" height="70.3" fill="none" stroke="#7a7a7a" stroke-width="1.1"/>
<line x1="223.8" y1="457.2" x2="294.4" y2="457.2" stroke="#333" stroke-width="1.1"/>
<rect x="311.1" y="387.1" width="69.8" height="70.1" fill="none" stroke="#7a7a7a" stroke-width="1.1"/>
<line x1="311.1" y1="457.2" x2="380.9" y2="457.2" stroke="#333" stroke-width="1.1"/>
<rect x="399.1" y="387.2" width="68.4" height="68.8" fill="none" stroke="#7a7a7a" stroke-width="1.1"/>
<line x1="399.1" y1="456" x2="467.5" y2="456" stroke="#333" stroke-width="1.1"/>
<text x="31.3" y="475.6" font-size="14" font-weight="bold" textLength="33.3" lengthAdjust="spacingAndGlyphs">TCL1</text>
<line x1="85" y1="469.5" x2="469.8" y2="469.5" stroke="#000" stroke-width="1.1"/>
<polygon points="468.8,466 475.8,469.5 468.8,472.8" fill="#000"/>
<text x="9.6" y="500.8" font-size="18" font-weight="bold">D</text>
<text x="68.9" y="608" font-size="14" font-weight="bold" textLength="114.4" lengthAdjust="spacingAndGlyphs" transform="rotate(-90 68.9 608)">Specific lysis (%)</text>
<line x1="120" y1="513.8" x2="120" y2="610.1" stroke="#c4c4c4" stroke-width="1.2"/>
<line x1="120" y1="609.6" x2="212.7" y2="609.6" stroke="#c4c4c4" stroke-width="1.2"/>
<line x1="116" y1="609.6" x2="120" y2="609.6" stroke="#c4c4c4" stroke-width="1.2"/>
<line x1="116" y1="585.65" x2="120" y2="585.65" stroke="#c4c4c4" stroke-width="1.2"/>
<line x1="116" y1="561.7" x2="120" y2="561.7" stroke="#c4c4c4" stroke-width="1.2"/>
<line x1="116" y1="537.75" x2="120" y2="537.75" stroke="#c4c4c4" stroke-width="1.2"/>
<line x1="116" y1="513.8" x2="120" y2="513.8" stroke="#c4c4c4" stroke-width="1.2"/>
<line x1="151.3" y1="609.6" x2="151.3" y2="614.6" stroke="#c4c4c4" stroke-width="1.2"/>
<line x1="182" y1="609.6" x2="182" y2="614.6" stroke="#c4c4c4" stroke-width="1.2"/>
<line x1="212.7" y1="609.6" x2="212.7" y2="614.6" stroke="#c4c4c4" stroke-width="1.2"/>
<text x="111.2" y="613.5" font-size="12" text-anchor="end" textLength="6.8" lengthAdjust="spacingAndGlyphs" fill="#111">0</text>
<text x="111.2" y="589.55" font-size="12" text-anchor="end" textLength="13.6" lengthAdjust="spacingAndGlyphs" fill="#111">20</text>
<text x="111.2" y="565.6" font-size="12" text-anchor="end" textLength="13.6" lengthAdjust="spacingAndGlyphs" fill="#111">40</text>
<text x="111.2" y="541.65" font-size="12" text-anchor="end" textLength="13.6" lengthAdjust="spacingAndGlyphs" fill="#111">60</text>
<text x="111.2" y="517.7" font-size="12" text-anchor="end" textLength="13.6" lengthAdjust="spacingAndGlyphs" fill="#111">80</text>
<text x="155.8" y="515.8" font-size="13" font-weight="bold" textLength="29.8" lengthAdjust="spacingAndGlyphs">MCL</text>
<polyline points="135.7,609.6 166.5,609.6 197.7,609.24" fill="none" stroke="#000" stroke-width="1.3"/>
<polyline points="135.7,555.35 166.5,555.35 197.7,551.52" fill="none" stroke="#000" stroke-width="1.3"/>
<polyline points="135.7,573.32 166.5,573.32 197.7,584.45" fill="none" stroke="#000" stroke-width="1.3"/>
<line x1="135.7" y1="548.53" x2="135.7" y2="561.7" stroke="#000" stroke-width="1.2"/>
<line x1="131.8" y1="548.53" x2="139.6" y2="548.53" stroke="#000" stroke-width="1.2"/>
<line x1="131.8" y1="561.7" x2="139.6" y2="561.7" stroke="#000" stroke-width="1.2"/>
<line x1="166.5" y1="547.33" x2="166.5" y2="562.54" stroke="#000" stroke-width="1.2"/>
<line x1="162.6" y1="547.33" x2="170.4" y2="547.33" stroke="#000" stroke-width="1.2"/>
<line x1="162.6" y1="562.54" x2="170.4" y2="562.54" stroke="#000" stroke-width="1.2"/>
<line x1="197.7" y1="542.18" x2="197.7" y2="561.7" stroke="#000" stroke-width="1.2"/>
<line x1="193.8" y1="542.18" x2="201.6" y2="542.18" stroke="#000" stroke-width="1.2"/>
<line x1="193.8" y1="561.7" x2="201.6" y2="561.7" stroke="#000" stroke-width="1.2"/>
<line x1="135.7" y1="571.04" x2="135.7" y2="575.35" stroke="#000" stroke-width="1.2"/>
<line x1="131.8" y1="571.04" x2="139.6" y2="571.04" stroke="#000" stroke-width="1.2"/>
<line x1="131.8" y1="575.35" x2="139.6" y2="575.35" stroke="#000" stroke-width="1.2"/>
<line x1="166.5" y1="569.12" x2="166.5" y2="577.03" stroke="#000" stroke-width="1.2"/>
<line x1="162.6" y1="569.12" x2="170.4" y2="569.12" stroke="#000" stroke-width="1.2"/>
<line x1="162.6" y1="577.03" x2="170.4" y2="577.03" stroke="#000" stroke-width="1.2"/>
<line x1="197.7" y1="574.15" x2="197.7" y2="593.43" stroke="#000" stroke-width="1.2"/>
<line x1="193.8" y1="574.15" x2="201.6" y2="574.15" stroke="#000" stroke-width="1.2"/>
<line x1="193.8" y1="593.43" x2="201.6" y2="593.43" stroke="#000" stroke-width="1.2"/>
<line x1="197.7" y1="606.97" x2="197.7" y2="609.6" stroke="#000" stroke-width="1.2"/>
<line x1="193.8" y1="606.97" x2="201.6" y2="606.97" stroke="#000" stroke-width="1.2"/>
<line x1="193.8" y1="609.6" x2="201.6" y2="609.6" stroke="#000" stroke-width="1.2"/>
<rect x="132.4" y="552.25" width="6.6" height="6.2" fill="#000"/>
<rect x="163.2" y="552.25" width="6.6" height="6.2" fill="#000"/>
<rect x="194.4" y="548.42" width="6.6" height="6.2" fill="#000"/>
<polygon points="135.7,569.62 139.4,573.32 135.7,577.02 132,573.32" fill="#000"/>
<polygon points="166.5,569.62 170.2,573.32 166.5,577.02 162.8,573.32" fill="#000"/>
<polygon points="197.7,580.75 201.4,584.45 197.7,588.15 194,584.45" fill="#000"/>
<rect x="133.1" y="606.64" width="5.2" height="5.2" fill="#fff" stroke="#000" stroke-width="1.2"/>
<rect x="163.9" y="606.64" width="5.2" height="5.2" fill="#fff" stroke="#000" stroke-width="1.2"/>
<rect x="195.1" y="606.64" width="5.2" height="5.2" fill="#fff" stroke="#000" stroke-width="1.2"/>
<text x="139.9" y="641.2" font-size="12" textLength="21.8" lengthAdjust="spacingAndGlyphs" transform="rotate(-90 139.9 641.2)">40:1</text>
<text x="170.7" y="641.2" font-size="12" textLength="21.8" lengthAdjust="spacingAndGlyphs" transform="rotate(-90 170.7 641.2)">20:1</text>
<text x="201.9" y="641.2" font-size="12" textLength="21.8" lengthAdjust="spacingAndGlyphs" transform="rotate(-90 201.9 641.2)">10:1</text>
<line x1="269.8" y1="513.8" x2="269.8" y2="610.1" stroke="#c4c4c4" stroke-width="1.2"/>
<line x1="269.8" y1="609.6" x2="362" y2="609.6" stroke="#c4c4c4" stroke-width="1.2"/>
<line x1="265.8" y1="609.6" x2="269.8" y2="609.6" stroke="#c4c4c4" stroke-width="1.2"/>
<line x1="265.8" y1="585.65" x2="269.8" y2="585.65" stroke="#c4c4c4" stroke-width="1.2"/>
<line x1="265.8" y1="561.7" x2="269.8" y2="561.7" stroke="#c4c4c4" stroke-width="1.2"/>
<line x1="265.8" y1="537.75" x2="269.8" y2="537.75" stroke="#c4c4c4" stroke-width="1.2"/>
<line x1="265.8" y1="513.8" x2="269.8" y2="513.8" stroke="#c4c4c4" stroke-width="1.2"/>
<line x1="300.5" y1="609.6" x2="300.5" y2="614.6" stroke="#c4c4c4" stroke-width="1.2"/>
<line x1="331.2" y1="609.6" x2="331.2" y2="614.6" stroke="#c4c4c4" stroke-width="1.2"/>
<line x1="362" y1="609.6" x2="362" y2="614.6" stroke="#c4c4c4" stroke-width="1.2"/>
<text x="260.8" y="613.5" font-size="12" text-anchor="end" textLength="6.8" lengthAdjust="spacingAndGlyphs" fill="#111">0</text>
<text x="260.8" y="589.55" font-size="12" text-anchor="end" textLength="13.6" lengthAdjust="spacingAndGlyphs" fill="#111">20</text>
<text x="260.8" y="565.6" font-size="12" text-anchor="end" textLength="13.6" lengthAdjust="spacingAndGlyphs" fill="#111">40</text>
<text x="260.8" y="541.65" font-size="12" text-anchor="end" textLength="13.6" lengthAdjust="spacingAndGlyphs" fill="#111">60</text>
<text x="260.8" y="517.7" font-size="12" text-anchor="end" textLength="13.6" lengthAdjust="spacingAndGlyphs" fill="#111">80</text>
<text x="293.8" y="516" font-size="13" font-weight="bold" textLength="38" lengthAdjust="spacingAndGlyphs">SMZL</text>
<polyline points="284.9,609.6 316.2,604.81 346.3,607.21" fill="none" stroke="#000" stroke-width="1.3"/>
<line x1="284.9" y1="519.79" x2="284.9" y2="567.69" stroke="#000" stroke-width="1.2"/>
<line x1="281" y1="519.79" x2="288.8" y2="519.79" stroke="#000" stroke-width="1.2"/>
<line x1="281" y1="567.69" x2="288.8" y2="567.69" stroke="#000" stroke-width="1.2"/>
<line x1="316.2" y1="550.92" x2="316.2" y2="584.45" stroke="#000" stroke-width="1.2"/>
<line x1="312.3" y1="550.92" x2="320.1" y2="550.92" stroke="#000" stroke-width="1.2"/>
<line x1="312.3" y1="584.45" x2="320.1" y2="584.45" stroke="#000" stroke-width="1.2"/>
<line x1="346.3" y1="565.29" x2="346.3" y2="609.6" stroke="#000" stroke-width="1.2"/>
<line x1="342.4" y1="565.29" x2="350.2" y2="565.29" stroke="#000" stroke-width="1.2"/>
<line x1="342.4" y1="609.6" x2="350.2" y2="609.6" stroke="#000" stroke-width="1.2"/>
<line x1="316.2" y1="601.82" x2="316.2" y2="607.21" stroke="#000" stroke-width="1.2"/>
<line x1="312.3" y1="601.82" x2="320.1" y2="601.82" stroke="#000" stroke-width="1.2"/>
<line x1="312.3" y1="607.21" x2="320.1" y2="607.21" stroke="#000" stroke-width="1.2"/>
<polyline points="284.9,542.54 316.2,567.09 346.3,592.84" fill="none" stroke="#000" stroke-width="1.3"/>
<rect x="281.6" y="539.44" width="6.6" height="6.2" fill="#000"/>
<rect x="312.9" y="563.99" width="6.6" height="6.2" fill="#000"/>
<rect x="343" y="589.74" width="6.6" height="6.2" fill="#000"/>
<rect x="282.3" y="607" width="5.2" height="5.2" fill="#fff" stroke="#000" stroke-width="1.2"/>
<rect x="313.6" y="602.21" width="5.2" height="5.2" fill="#fff" stroke="#000" stroke-width="1.2"/>
<rect x="343.7" y="604.61" width="5.2" height="5.2" fill="#fff" stroke="#000" stroke-width="1.2"/>
<text x="289.1" y="641.2" font-size="12" textLength="21.8" lengthAdjust="spacingAndGlyphs" transform="rotate(-90 289.1 641.2)">40:1</text>
<text x="320.4" y="641.2" font-size="12" textLength="21.8" lengthAdjust="spacingAndGlyphs" transform="rotate(-90 320.4 641.2)">20:1</text>
<text x="350.5" y="641.2" font-size="12" textLength="21.8" lengthAdjust="spacingAndGlyphs" transform="rotate(-90 350.5 641.2)">10:1</text>
<line x1="403.5" y1="527.1" x2="425" y2="527.1" stroke="#000" stroke-width="1.3"/>
<rect x="411.15" y="524.1" width="6.9" height="6.2" fill="#000"/>
<text x="429.4" y="530.7" font-size="11.5" textLength="84" lengthAdjust="spacingAndGlyphs">Tumor HLA A2+</text>
<line x1="404.2" y1="543.8" x2="426.5" y2="543.8" stroke="#000" stroke-width="1.3"/>
<rect x="412.4" y="541" width="5.8" height="5.8" fill="#fff" stroke="#000" stroke-width="1.2"/>
<text x="430" y="548.2" font-size="11.5" textLength="81" lengthAdjust="spacingAndGlyphs">Tumor HLA A2-</text>
<line x1="405" y1="558" x2="423.5" y2="558" stroke="#000" stroke-width="1.3"/>
<polygon points="414.8,554.1 418.9,558 414.8,561.9 410.7,558" fill="#000"/>
<rect x="414.2" y="564" width="1.2" height="1" fill="#000"/>
<text x="432.8" y="562.6" font-size="11.5" textLength="75.5" lengthAdjust="spacingAndGlyphs">MCL HLA A2+</text>
<text x="47" y="765" font-size="14" font-weight="bold" textLength="114.2" lengthAdjust="spacingAndGlyphs" transform="rotate(-90 47 765)">Specific lysis (%)</text>
<line x1="96.4" y1="670.2" x2="96.4" y2="766" stroke="#c4c4c4" stroke-width="1.2"/>
<line x1="96.4" y1="765.5" x2="180" y2="765.5" stroke="#c4c4c4" stroke-width="1.2"/>
<line x1="92.4" y1="765.5" x2="96.4" y2="765.5" stroke="#c4c4c4" stroke-width="1.2"/>
<line x1="92.4" y1="741.67" x2="96.4" y2="741.67" stroke="#c4c4c4" stroke-width="1.2"/>
<line x1="92.4" y1="717.85" x2="96.4" y2="717.85" stroke="#c4c4c4" stroke-width="1.2"/>
<line x1="92.4" y1="694.03" x2="96.4" y2="694.03" stroke="#c4c4c4" stroke-width="1.2"/>
<line x1="92.4" y1="670.2" x2="96.4" y2="670.2" stroke="#c4c4c4" stroke-width="1.2"/>
<line x1="124.27" y1="765.5" x2="124.27" y2="770.5" stroke="#c4c4c4" stroke-width="1.2"/>
<line x1="152.13" y1="765.5" x2="152.13" y2="770.5" stroke="#c4c4c4" stroke-width="1.2"/>
<line x1="180" y1="765.5" x2="180" y2="770.5" stroke="#c4c4c4" stroke-width="1.2"/>
<text x="88.7" y="769" font-size="12" text-anchor="end" textLength="6.3" lengthAdjust="spacingAndGlyphs" fill="#111">0</text>
<text x="88.7" y="745.17" font-size="12" text-anchor="end" textLength="12.6" lengthAdjust="spacingAndGlyphs" fill="#111">10</text>
<text x="88.7" y="721.35" font-size="12" text-anchor="end" textLength="12.6" lengthAdjust="spacingAndGlyphs" fill="#111">20</text>
<text x="88.7" y="697.53" font-size="12" text-anchor="end" textLength="12.6" lengthAdjust="spacingAndGlyphs" fill="#111">30</text>
<text x="88.7" y="673.7" font-size="12" text-anchor="end" textLength="12.6" lengthAdjust="spacingAndGlyphs" fill="#111">40</text>
<text x="129" y="672" font-size="13" font-weight="bold" textLength="26.2" lengthAdjust="spacingAndGlyphs">CLL</text>
<polyline points="110.5,765.5 138.2,764.79 165.7,765.5" fill="none" stroke="#000" stroke-width="1.3"/>
<line x1="138.2" y1="759.78" x2="138.2" y2="765.5" stroke="#000" stroke-width="1.2"/>
<line x1="134.3" y1="759.78" x2="142.1" y2="759.78" stroke="#000" stroke-width="1.2"/>
<line x1="134.3" y1="765.5" x2="142.1" y2="765.5" stroke="#000" stroke-width="1.2"/>
<line x1="110.5" y1="697.6" x2="110.5" y2="703.56" stroke="#000" stroke-width="1.2"/>
<line x1="106.6" y1="697.6" x2="114.4" y2="697.6" stroke="#000" stroke-width="1.2"/>
<line x1="106.6" y1="703.56" x2="114.4" y2="703.56" stroke="#000" stroke-width="1.2"/>
<line x1="138.2" y1="700.7" x2="138.2" y2="724.04" stroke="#000" stroke-width="1.2"/>
<line x1="134.3" y1="700.7" x2="142.1" y2="700.7" stroke="#000" stroke-width="1.2"/>
<line x1="134.3" y1="724.04" x2="142.1" y2="724.04" stroke="#000" stroke-width="1.2"/>
<line x1="165.7" y1="726.9" x2="165.7" y2="730.24" stroke="#000" stroke-width="1.2"/>
<line x1="161.8" y1="726.9" x2="169.6" y2="726.9" stroke="#000" stroke-width="1.2"/>
<line x1="161.8" y1="730.24" x2="169.6" y2="730.24" stroke="#000" stroke-width="1.2"/>
<polyline points="110.5,701.17 138.2,711.89 165.7,728.57" fill="none" stroke="#000" stroke-width="1.3"/>
<rect x="107.2" y="698.07" width="6.6" height="6.2" fill="#000"/>
<rect x="134.9" y="708.79" width="6.6" height="6.2" fill="#000"/>
<rect x="162.4" y="725.47" width="6.6" height="6.2" fill="#000"/>
<rect x="107.9" y="762.9" width="5.2" height="5.2" fill="#fff" stroke="#000" stroke-width="1.2"/>
<rect x="135.6" y="762.19" width="5.2" height="5.2" fill="#fff" stroke="#000" stroke-width="1.2"/>
<rect x="163.1" y="762.9" width="5.2" height="5.2" fill="#fff" stroke="#000" stroke-width="1.2"/>
<text x="114.7" y="797.2" font-size="12" textLength="21.4" lengthAdjust="spacingAndGlyphs" transform="rotate(-90 114.7 797.2)">20:1</text>
<text x="142.4" y="797.2" font-size="12" textLength="21.4" lengthAdjust="spacingAndGlyphs" transform="rotate(-90 142.4 797.2)">10:1</text>
<text x="169.9" y="791" font-size="12" textLength="14.5" lengthAdjust="spacingAndGlyphs" transform="rotate(-90 169.9 791)">5:1</text>
<line x1="230.4" y1="670.2" x2="230.4" y2="766" stroke="#c4c4c4" stroke-width="1.2"/>
<line x1="230.4" y1="765.5" x2="315" y2="765.5" stroke="#c4c4c4" stroke-width="1.2"/>
<line x1="226.4" y1="765.5" x2="230.4" y2="765.5" stroke="#c4c4c4" stroke-width="1.2"/>
<line x1="226.4" y1="741.67" x2="230.4" y2="741.67" stroke="#c4c4c4" stroke-width="1.2"/>
<line x1="226.4" y1="717.85" x2="230.4" y2="717.85" stroke="#c4c4c4" stroke-width="1.2"/>
<line x1="226.4" y1="694.03" x2="230.4" y2="694.03" stroke="#c4c4c4" stroke-width="1.2"/>
<line x1="226.4" y1="670.2" x2="230.4" y2="670.2" stroke="#c4c4c4" stroke-width="1.2"/>
<line x1="258.6" y1="765.5" x2="258.6" y2="770.5" stroke="#c4c4c4" stroke-width="1.2"/>
<line x1="286.8" y1="765.5" x2="286.8" y2="770.5" stroke="#c4c4c4" stroke-width="1.2"/>
<line x1="315" y1="765.5" x2="315" y2="770.5" stroke="#c4c4c4" stroke-width="1.2"/>
<text x="223.2" y="769" font-size="12" text-anchor="end" textLength="6.3" lengthAdjust="spacingAndGlyphs" fill="#111">0</text>
<text x="223.2" y="745.17" font-size="12" text-anchor="end" textLength="12.6" lengthAdjust="spacingAndGlyphs" fill="#111">10</text>
<text x="223.2" y="721.35" font-size="12" text-anchor="end" textLength="12.6" lengthAdjust="spacingAndGlyphs" fill="#111">20</text>
<text x="223.2" y="697.53" font-size="12" text-anchor="end" textLength="12.6" lengthAdjust="spacingAndGlyphs" fill="#111">30</text>
<text x="223.2" y="673.7" font-size="12" text-anchor="end" textLength="12.6" lengthAdjust="spacingAndGlyphs" fill="#111">40</text>
<text x="261.4" y="672" font-size="13" font-weight="bold" textLength="16.6" lengthAdjust="spacingAndGlyphs">FL</text>
<polyline points="244.7,765.5 272.9,765.5 300.4,765.5" fill="none" stroke="#000" stroke-width="1.3"/>
<line x1="272.9" y1="759.78" x2="272.9" y2="765.5" stroke="#000" stroke-width="1.2"/>
<line x1="269" y1="759.78" x2="276.8" y2="759.78" stroke="#000" stroke-width="1.2"/>
<line x1="269" y1="765.5" x2="276.8" y2="765.5" stroke="#000" stroke-width="1.2"/>
<line x1="244.7" y1="695.69" x2="244.7" y2="699.27" stroke="#000" stroke-width="1.2"/>
<line x1="240.8" y1="695.69" x2="248.6" y2="695.69" stroke="#000" stroke-width="1.2"/>
<line x1="240.8" y1="699.27" x2="248.6" y2="699.27" stroke="#000" stroke-width="1.2"/>
<line x1="272.9" y1="689.26" x2="272.9" y2="717.85" stroke="#000" stroke-width="1.2"/>
<line x1="269" y1="689.26" x2="276.8" y2="689.26" stroke="#000" stroke-width="1.2"/>
<line x1="269" y1="717.85" x2="276.8" y2="717.85" stroke="#000" stroke-width="1.2"/>
<line x1="300.4" y1="714.28" x2="300.4" y2="741.67" stroke="#000" stroke-width="1.2"/>
<line x1="296.5" y1="714.28" x2="304.3" y2="714.28" stroke="#000" stroke-width="1.2"/>
<line x1="296.5" y1="741.67" x2="304.3" y2="741.67" stroke="#000" stroke-width="1.2"/>
<polyline points="244.7,697.6 272.9,703.56 300.4,727.38" fill="none" stroke="#000" stroke-width="1.3"/>
<rect x="241.4" y="694.5" width="6.6" height="6.2" fill="#000"/>
<rect x="269.6" y="700.46" width="6.6" height="6.2" fill="#000"/>
<rect x="297.1" y="724.28" width="6.6" height="6.2" fill="#000"/>
<rect x="242.1" y="762.9" width="5.2" height="5.2" fill="#fff" stroke="#000" stroke-width="1.2"/>
<rect x="270.3" y="762.9" width="5.2" height="5.2" fill="#fff" stroke="#000" stroke-width="1.2"/>
<rect x="297.8" y="762.9" width="5.2" height="5.2" fill="#fff" stroke="#000" stroke-width="1.2"/>
<text x="248.9" y="797.2" font-size="12" textLength="21.4" lengthAdjust="spacingAndGlyphs" transform="rotate(-90 248.9 797.2)">20:1</text>
<text x="277.1" y="797.2" font-size="12" textLength="21.4" lengthAdjust="spacingAndGlyphs" transform="rotate(-90 277.1 797.2)">10:1</text>
<text x="304.6" y="791" font-size="12" textLength="14.5" lengthAdjust="spacingAndGlyphs" transform="rotate(-90 304.6 791)">5:1</text>
<line x1="351" y1="670.2" x2="351" y2="766" stroke="#c4c4c4" stroke-width="1.2"/>
<line x1="351" y1="765.5" x2="436.3" y2="765.5" stroke="#c4c4c4" stroke-width="1.2"/>
<line x1="347" y1="765.5" x2="351" y2="765.5" stroke="#c4c4c4" stroke-width="1.2"/>
<line x1="347" y1="741.67" x2="351" y2="741.67" stroke="#c4c4c4" stroke-width="1.2"/>
<line x1="347" y1="717.85" x2="351" y2="717.85" stroke="#c4c4c4" stroke-width="1.2"/>
<line x1="347" y1="694.03" x2="351" y2="694.03" stroke="#c4c4c4" stroke-width="1.2"/>
<line x1="347" y1="670.2" x2="351" y2="670.2" stroke="#c4c4c4" stroke-width="1.2"/>
<line x1="379.43" y1="765.5" x2="379.43" y2="770.5" stroke="#c4c4c4" stroke-width="1.2"/>
<line x1="407.87" y1="765.5" x2="407.87" y2="770.5" stroke="#c4c4c4" stroke-width="1.2"/>
<line x1="436.3" y1="765.5" x2="436.3" y2="770.5" stroke="#c4c4c4" stroke-width="1.2"/>
<text x="343.3" y="769" font-size="12" text-anchor="end" textLength="6.3" lengthAdjust="spacingAndGlyphs" fill="#111">0</text>
<text x="343.3" y="745.17" font-size="12" text-anchor="end" textLength="12.6" lengthAdjust="spacingAndGlyphs" fill="#111">10</text>
<text x="343.3" y="721.35" font-size="12" text-anchor="end" textLength="12.6" lengthAdjust="spacingAndGlyphs" fill="#111">20</text>
<text x="343.3" y="697.53" font-size="12" text-anchor="end" textLength="12.6" lengthAdjust="spacingAndGlyphs" fill="#111">30</text>
<text x="343.3" y="673.7" font-size="12" text-anchor="end" textLength="12.6" lengthAdjust="spacingAndGlyphs" fill="#111">40</text>
<text x="374.4" y="672" font-size="13" font-weight="bold" textLength="46.6" lengthAdjust="spacingAndGlyphs">DLBCL</text>
<polyline points="365.2,765.5 393.5,765.5 421.5,765.5" fill="none" stroke="#000" stroke-width="1.3"/>
<line x1="393.5" y1="760.02" x2="393.5" y2="765.5" stroke="#000" stroke-width="1.2"/>
<line x1="389.6" y1="760.02" x2="397.4" y2="760.02" stroke="#000" stroke-width="1.2"/>
<line x1="389.6" y1="765.5" x2="397.4" y2="765.5" stroke="#000" stroke-width="1.2"/>
<line x1="421.5" y1="761.93" x2="421.5" y2="765.5" stroke="#000" stroke-width="1.2"/>
<line x1="417.6" y1="761.93" x2="425.4" y2="761.93" stroke="#000" stroke-width="1.2"/>
<line x1="417.6" y1="765.5" x2="425.4" y2="765.5" stroke="#000" stroke-width="1.2"/>
<line x1="365.2" y1="728.57" x2="365.2" y2="740.48" stroke="#000" stroke-width="1.2"/>
<line x1="361.3" y1="728.57" x2="369.1" y2="728.57" stroke="#000" stroke-width="1.2"/>
<line x1="361.3" y1="740.48" x2="369.1" y2="740.48" stroke="#000" stroke-width="1.2"/>
<line x1="393.5" y1="730.95" x2="393.5" y2="739.29" stroke="#000" stroke-width="1.2"/>
<line x1="389.6" y1="730.95" x2="397.4" y2="730.95" stroke="#000" stroke-width="1.2"/>
<line x1="389.6" y1="739.29" x2="397.4" y2="739.29" stroke="#000" stroke-width="1.2"/>
<line x1="421.5" y1="741.67" x2="421.5" y2="765.5" stroke="#000" stroke-width="1.2"/>
<line x1="417.6" y1="741.67" x2="425.4" y2="741.67" stroke="#000" stroke-width="1.2"/>
<line x1="417.6" y1="765.5" x2="425.4" y2="765.5" stroke="#000" stroke-width="1.2"/>
<polyline points="365.2,734.53 393.5,735.72 421.5,751.21" fill="none" stroke="#000" stroke-width="1.3"/>
<rect x="361.9" y="731.43" width="6.6" height="6.2" fill="#000"/>
<rect x="390.2" y="732.62" width="6.6" height="6.2" fill="#000"/>
<rect x="418.2" y="748.11" width="6.6" height="6.2" fill="#000"/>
<rect x="362.6" y="762.9" width="5.2" height="5.2" fill="#fff" stroke="#000" stroke-width="1.2"/>
<rect x="390.9" y="762.9" width="5.2" height="5.2" fill="#fff" stroke="#000" stroke-width="1.2"/>
<rect x="418.9" y="762.9" width="5.2" height="5.2" fill="#fff" stroke="#000" stroke-width="1.2"/>
<text x="369.4" y="797.2" font-size="12" textLength="21.4" lengthAdjust="spacingAndGlyphs" transform="rotate(-90 369.4 797.2)">20:1</text>
<text x="397.7" y="797.2" font-size="12" textLength="21.4" lengthAdjust="spacingAndGlyphs" transform="rotate(-90 397.7 797.2)">10:1</text>
<text x="425.7" y="791" font-size="12" textLength="14.5" lengthAdjust="spacingAndGlyphs" transform="rotate(-90 425.7 791)">5:1</text>
<text x="194.6" y="821" font-size="14" font-weight="bold" textLength="144" lengthAdjust="spacingAndGlyphs">Effector : Target ratio</text>
</svg></body></html>
